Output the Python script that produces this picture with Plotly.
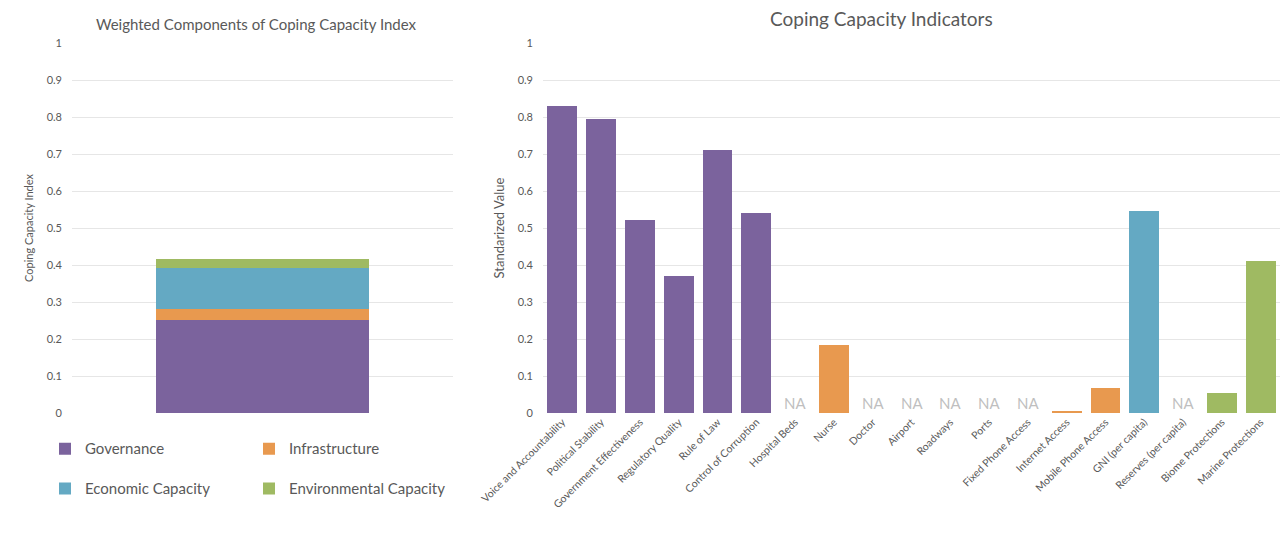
import plotly.graph_objects as go

# Weighted components of the coping capacity index (stacked single bar)
component_names = ["Governance", "Infrastructure", "Economic Capacity", "Environmental Capacity"]
component_values = [0.251, 0.031, 0.110, 0.024]
component_colors = ["#7B639D", "#E8994F", "#64A9C3", "#9FBA62"]

# Individual coping capacity indicators (None = not available)
indicator_names = [
    "Voice and Accountability", "Political Stability", "Government Effectiveness",
    "Regulatory Quality", "Rule of Law", "Control of Corruption", "Hospital Beds",
    "Nurse", "Doctor", "Airport", "Roadways", "Ports", "Fixed Phone Access",
    "Internet Access", "Mobile Phone Access", "GNI (per capita)",
    "Reserves (per capita)", "Biome Protections", "Marine Protections",
]
indicator_values = [
    0.831, 0.795, 0.521, 0.370, 0.711, 0.541, None,
    0.184, None, None, None, None, None,
    0.004, 0.068, 0.545, None, 0.054, 0.411,
]
indicator_groups = [0] * 6 + [1] * 9 + [2] * 2 + [3] * 2

y_ticks = [0, 0.1, 0.2, 0.3, 0.4, 0.5, 0.6, 0.7, 0.8, 0.9, 1]
y_ticktext = ["0", "0.1", "0.2", "0.3", "0.4", "0.5", "0.6", "0.7", "0.8", "0.9", "1"]

FONT = "Lato, 'Open Sans', sans-serif"
GRAY = "#595959"
GRID = "#E6E6E6"

fig = go.Figure()

# Left: stacked components, two rows of legend entries
for i, (name, val, col) in enumerate(zip(component_names, component_values, component_colors)):
    fig.add_trace(go.Bar(
        x=["Index"], y=[val], name=name, marker=dict(color=col, line=dict(width=0)),
        xaxis="x", yaxis="y", legend="legend" if i in (0, 1) else "legend2",
        hoverinfo="name+y",
    ))

# Right: indicator bars, coloured by component
fig.add_trace(go.Bar(
    x=indicator_names,
    y=[v if v is not None else 0 for v in indicator_values],
    marker=dict(color=[component_colors[g] for g in indicator_groups], line=dict(width=0)),
    xaxis="x2", yaxis="y2", showlegend=False, width=0.77,
))

annotations = []
# "NA" markers for unavailable indicators
for name, val in zip(indicator_names, indicator_values):
    if val is None:
        annotations.append(dict(
            x=name, y=0, xref="x2", yref="y2", text="NA", showarrow=False,
            yanchor="bottom", yshift=-1,
            font=dict(family=FONT, size=15, color="#BFBFBF"),
        ))

annotations.append(dict(
    x=256 / 1280, y=1, xref="paper", yref="paper", xanchor="center", yanchor="middle",
    yshift=19, text="Weighted Components of Coping Capacity Index",
    showarrow=False, font=dict(family=FONT, size=15, color=GRAY),
))
annotations.append(dict(
    x=881 / 1280, y=1, xref="paper", yref="paper", xanchor="center", yanchor="middle",
    yshift=25, text="Coping Capacity Indicators",
    showarrow=False, font=dict(family=FONT, size=19, color=GRAY),
))

axis_common = dict(
    range=[0, 1], tickvals=y_ticks, ticktext=y_ticktext, showgrid=True, gridcolor=GRID,
    gridwidth=1, zeroline=False, showline=False, ticks="", ticklabelstandoff=9,
    tickfont=dict(family=FONT, size=11, color=GRAY), fixedrange=True, automargin=False,
)

legend_common = dict(
    orientation="h", x=45 / 1280, xanchor="left", yanchor="middle",
    entrywidth=159, entrywidthmode="pixels", traceorder="normal",
    font=dict(family=FONT, size=15, color=GRAY), bgcolor="rgba(0,0,0,0)",
)

fig.update_layout(
    width=1280, height=546,
    margin=dict(l=0, r=0, t=43, b=133),
    paper_bgcolor="white", plot_bgcolor="white",
    barmode="stack", bargap=0.44,
    font=dict(family=FONT, color=GRAY),
    xaxis=dict(domain=[72 / 1280, 453 / 1280], showticklabels=False, showgrid=False,
               zeroline=False, fixedrange=True, automargin=False),
    yaxis=dict(**axis_common,
               title=dict(text="Coping Capacity Index", standoff=10,
                          font=dict(family=FONT, size=11, color=GRAY))),
    xaxis2=dict(domain=[543 / 1280, 1.0], anchor="y2", tickangle=-45, showgrid=False,
                zeroline=False, ticks="", fixedrange=True, automargin=False,
                tickfont=dict(family=FONT, size=10.5, color=GRAY)),
    yaxis2=dict(**axis_common, anchor="x2",
                title=dict(text="Standarized Value", standoff=10,
                           font=dict(family=FONT, size=13, color=GRAY))),
    legend=dict(**legend_common, y=-0.097),
    legend2=dict(**legend_common, y=-0.205),
    annotations=annotations,
)

fig.write_html("out.html")
